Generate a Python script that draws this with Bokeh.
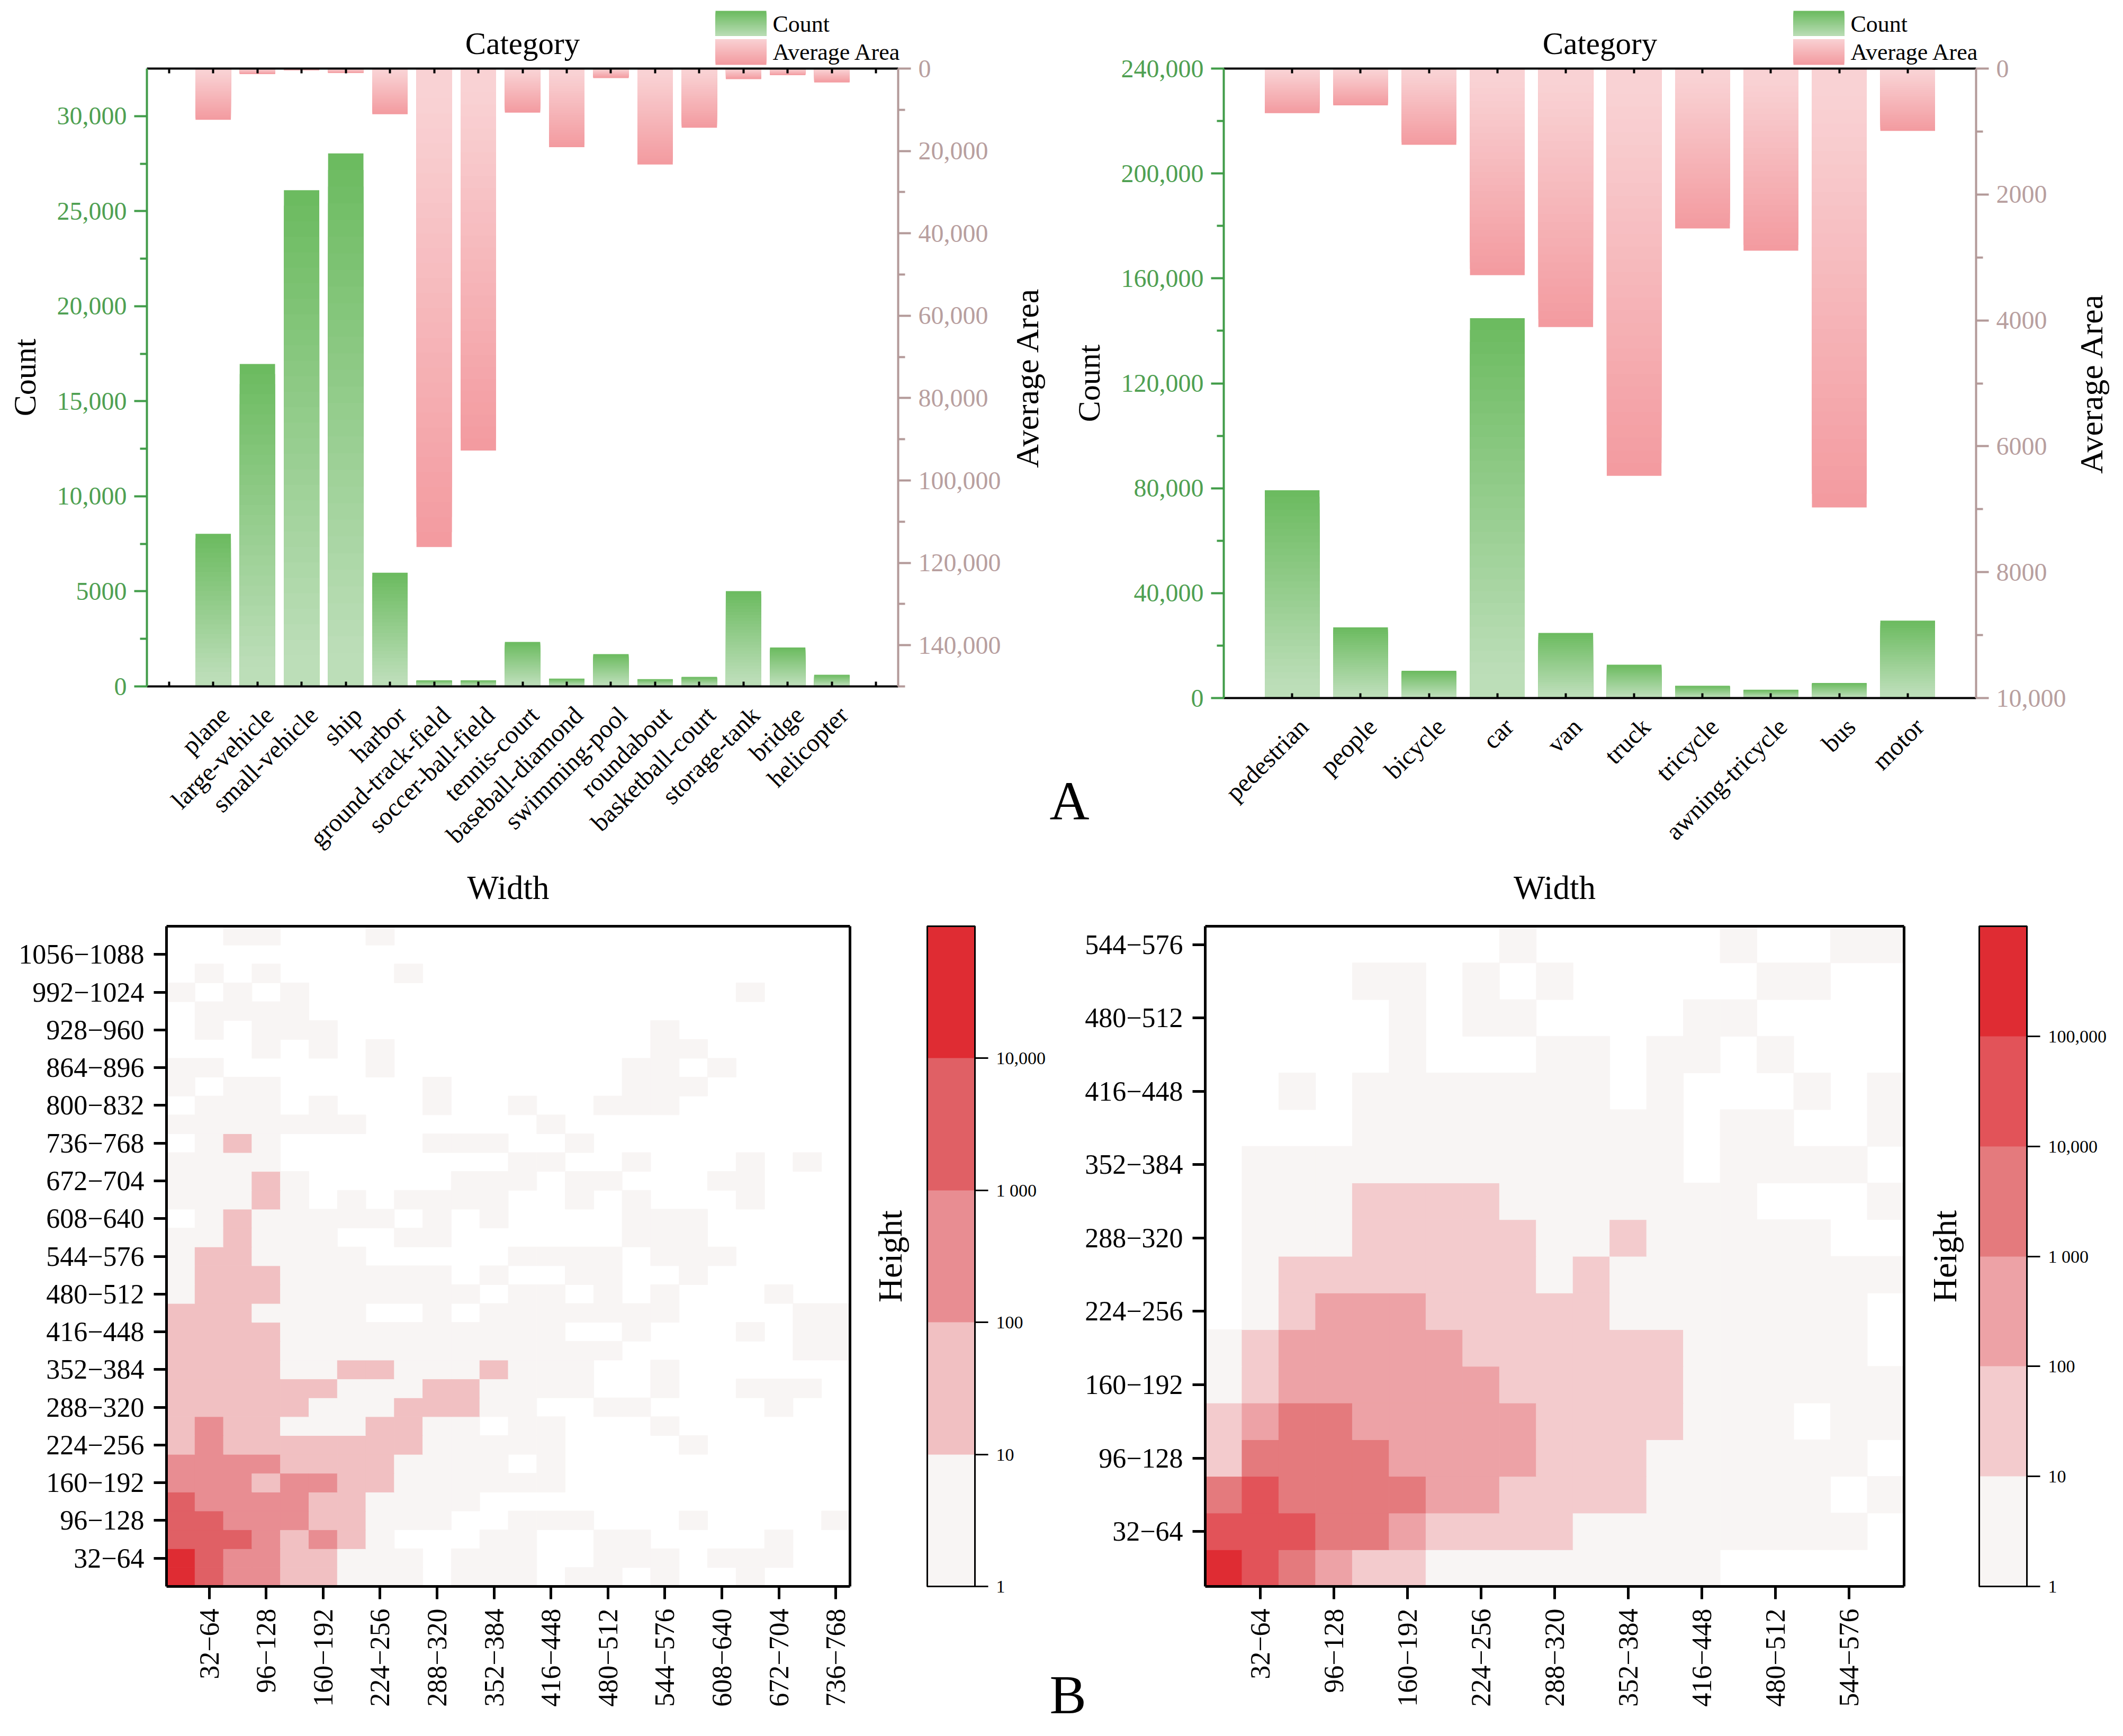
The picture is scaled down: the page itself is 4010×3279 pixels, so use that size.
import math
from bokeh.plotting import figure
from bokeh.layouts import column, row
from bokeh.embed import file_html
from bokeh.resources import INLINE
from bokeh.models import (Range1d, LinearAxis, FixedTicker, Label, ColorBar, LogColorMapper, ColumnDataSource)

SERIF = "Liberation Serif"

# ---------- data: panel A ----------
cats_dota = ["plane", "large-vehicle", "small-vehicle", "ship", "harbor", "ground-track-field",
             "soccer-ball-field", "tennis-court", "baseball-diamond", "swimming-pool", "roundabout",
             "basketball-court", "storage-tank", "bridge", "helicopter"]
count_dota = [8030, 16960, 26100, 28040, 5980, 320, 320, 2340, 410, 1700, 380, 500, 5010, 2050, 615]
area_dota = [12450, 1350, 400, 1100, 11100, 116170, 92740, 10700, 19090, 2300, 23290, 14350, 2570, 1620, 3380]

cats_drone = ["pedestrian", "people", "bicycle", "car", "van", "truck", "tricycle",
              "awning-tricycle", "bus", "motor"]
count_drone = [79220, 26970, 10400, 144850, 24850, 12740, 4670, 3190, 5730, 29520]
area_drone = [708, 584, 1212, 3283, 4106, 6469, 2540, 2894, 6973, 991]

# ---------- data: panel B, decade band of each cell (0 = empty, n = 10^(n-1) .. 10^n), first row = lowest height bin ----------
bands_dota = [
 [5,4,3,3,2,2,1,1,1,0,1,1,1,0,1,1,0,1,0,0,1,0,0,0],
 [5,4,3,3,2,2,1,1,1,0,1,1,1,0,0,1,1,1,0,1,1,1,0,0],
 [4,4,4,3,2,3,2,1,0,0,0,1,1,0,0,1,1,0,0,0,0,1,0,0],
 [4,4,3,3,3,2,2,1,1,1,0,0,1,1,1,0,0,0,1,0,0,0,0,1],
 [4,3,3,3,3,2,2,1,1,1,1,0,0,0,0,0,0,0,0,0,0,0,0,0],
 [3,3,3,2,3,3,2,2,1,1,1,1,1,1,0,0,0,0,0,0,0,0,0,0],
 [3,3,3,3,2,2,2,2,1,1,1,1,0,1,0,0,0,0,0,0,0,0,0,0],
 [2,3,2,2,2,2,2,2,2,1,1,1,1,1,0,0,0,0,1,0,0,0,0,0],
 [2,3,2,2,1,1,1,2,2,1,1,0,1,1,0,0,0,1,0,0,0,0,0,0],
 [2,2,2,2,2,1,1,1,2,2,2,1,1,0,0,1,1,0,0,0,0,1,0,0],
 [2,2,2,2,2,2,1,1,1,2,2,1,1,1,1,0,0,1,0,0,1,1,1,0],
 [2,2,2,2,1,1,2,2,1,1,1,2,1,1,1,0,0,1,0,0,0,0,0,0],
 [2,2,2,2,1,1,1,1,1,1,1,1,1,1,1,1,0,0,0,0,0,0,1,1],
 [2,2,2,2,1,1,1,1,1,1,1,1,1,1,0,0,1,0,0,0,1,0,1,1],
 [2,2,2,1,1,1,1,0,0,1,0,1,1,1,1,1,1,1,0,0,0,0,1,1],
 [1,2,2,2,1,1,1,1,1,1,1,0,1,1,0,1,0,1,0,0,0,1,0,0],
 [1,2,2,2,1,1,1,1,1,1,0,1,0,0,1,1,0,0,1,0,0,0,0,0],
 [1,2,2,1,1,1,1,0,0,0,0,0,1,1,1,1,0,1,1,1,0,0,0,0],
 [1,1,2,1,1,1,0,0,1,1,0,0,0,0,0,0,1,1,1,0,0,0,0,0],
 [0,1,2,1,1,1,1,1,0,1,0,1,0,0,0,0,1,1,1,0,0,0,0,0],
 [1,1,1,2,1,0,1,0,1,1,1,1,0,0,1,0,1,0,0,0,1,0,0,0],
 [1,1,1,2,1,0,0,0,0,0,1,1,1,0,1,1,0,0,0,1,1,0,0,0],
 [1,1,1,1,0,0,0,0,0,0,0,0,1,1,0,0,1,0,0,0,1,0,1,0],
 [0,1,2,1,0,0,0,0,0,1,1,1,0,0,1,0,0,0,0,0,0,0,0,0],
 [1,1,1,1,1,1,1,0,0,0,0,0,0,1,0,0,0,0,0,0,0,0,0,0],
 [0,1,1,1,0,1,0,0,0,1,0,0,1,0,0,1,1,1,0,0,0,0,0,0],
 [1,0,1,1,0,0,0,0,0,1,0,0,0,0,0,0,1,1,1,0,0,0,0,0],
 [1,1,0,0,0,0,0,1,0,0,0,0,0,0,0,0,1,1,0,1,0,0,0,0],
 [0,0,0,1,0,1,0,1,0,0,0,0,0,0,0,0,0,1,1,0,0,0,0,0],
 [0,1,0,1,1,1,0,0,0,0,0,0,0,0,0,0,0,1,0,0,0,0,0,0],
 [0,1,1,1,1,0,0,0,0,0,0,0,0,0,0,0,0,0,0,0,0,0,0,0],
 [1,0,1,0,1,0,0,0,0,0,0,0,0,0,0,0,0,0,0,0,1,0,0,0],
 [0,1,0,1,0,0,0,0,1,0,0,0,0,0,0,0,0,0,0,0,0,0,0,0],
 [0,0,0,0,0,0,0,0,0,0,0,0,0,0,0,0,0,0,0,0,0,0,0,0],
 [0,0,1,1,0,0,0,1,0,0,0,0,0,0,0,0,0,0,0,0,0,0,0,0],
]
bands_drone = [
 [6,5,4,3,2,2,1,1,1,1,1,1,1,1,0,0,0,0,0],
 [5,5,5,4,4,3,2,2,2,2,1,1,1,1,1,1,1,1,0],
 [4,5,4,4,4,4,3,3,2,2,2,2,1,1,1,1,1,0,1],
 [2,4,4,4,4,3,3,3,3,2,2,2,1,1,1,1,1,1,0],
 [2,3,4,4,3,3,3,3,3,2,2,2,2,1,1,1,0,1,1],
 [1,2,3,3,3,3,3,3,2,2,2,2,2,1,1,1,1,1,1],
 [1,2,3,3,3,3,3,2,2,2,2,2,2,1,1,1,1,1,0],
 [0,1,2,3,3,3,2,2,2,2,2,1,1,1,1,1,1,1,0],
 [0,1,2,2,2,2,2,2,2,1,2,1,1,1,1,1,1,1,1],
 [0,1,1,1,2,2,2,2,2,1,1,2,1,1,1,1,1,0,0],
 [0,1,1,1,2,2,2,2,1,1,1,1,1,1,1,0,0,0,1],
 [0,1,1,1,1,1,1,1,1,1,1,1,1,0,1,1,1,1,0],
 [0,0,0,0,1,1,1,1,1,1,1,1,1,0,1,1,0,0,1],
 [0,0,1,0,1,1,1,1,1,1,1,0,1,0,0,0,1,0,1],
 [0,0,0,0,0,1,0,0,0,1,1,0,1,1,0,1,0,0,0],
 [0,0,0,0,0,1,0,1,1,0,0,0,0,1,1,0,0,0,0],
 [0,0,0,0,1,1,0,1,0,1,0,0,0,0,0,1,1,0,0],
 [0,0,0,0,0,0,0,0,1,0,0,0,0,0,1,0,0,1,1],
]
bin_edges_label = ["32−64", "96−128", "160−192", "224−256", "288−320", "352−384", "416−448", "480−512",
                   "544−576", "608−640", "672−704", "736−768", "800−832", "864−896", "928−960",
                   "992−1024", "1056−1088"]
bin_size = 32
palette_dota = ["#f8f5f4", "#f1c0c2", "#e88d92", "#e06065", "#df2c33"]
palette_drone = ["#f8f5f4", "#f3cbcd", "#eda2a6", "#e47a7d", "#e25359", "#df2c33"]
cbar_labels_dota = {1: "1", 10: "10", 100: "100", 1000: "1 000", 10000: "10,000"}
cbar_labels_drone = {1: "1", 10: "10", 100: "100", 1000: "1 000", 10000: "10,000", 100000: "100,000"}

GREEN_AXIS, GREEN_TEXT = "#419c49", "#4fa052"
ROSE_AXIS, ROSE_TEXT = "#b39a99", "#b89f9f"
GREEN_TOP, GREEN_BOT = (108, 187, 96), (188, 222, 184)
PINK_TOP, PINK_BOT = (249, 210, 212), (243, 155, 160)
STEPS = 32


def mix(a, b, t):
    t = min(1.0, t)
    return "#%02x%02x%02x" % tuple(round(a[i] + (b[i] - a[i]) * t) for i in range(3))


def fmt(v):
    return str(v) if v < 10000 else f"{v:,}"


def nested(xs, vals, width, ca, cb, hold):
    """Nested boxes which shrink towards the baseline, giving each bar a vertical gradient."""
    L, R, T, C = [], [], [], []
    for x, v in zip(xs, vals):
        for i in range(STEPS):
            f = i / STEPS
            L.append(x - width / 2); R.append(x + width / 2)
            T.append(v * (1 - f)); C.append(mix(ca, cb, f / hold))
    return dict(left=L, right=R, top=T, bottom=[0] * len(L), color=C)


def canvas_figure(w, h, fl, fr, ft, fb, x0, x1, y0, y1):
    """A figure whose frame fills the canvas; the plot area proper is held by axes at fixed locations,
    so that legend and titles (outside that area) are free of any clipping."""
    sx = (x1 - x0) / (fr - fl)
    sy = (y1 - y0) / (fb - ft)
    p = figure(width=w, height=h, output_backend="svg", toolbar_location=None,
               x_range=Range1d(x0 - fl * sx, x1 + (w - fr) * sx), y_range=Range1d(y0 - (h - fb) * sy, y1 + ft * sy),
               min_border=0, min_border_left=0, min_border_right=0, min_border_top=0, min_border_bottom=0,
               background_fill_color="white", border_fill_color="white", outline_line_color=None)
    p.grid.visible = False
    dx = lambda px: x0 + (px - fl) * sx
    dy = lambda py: y0 + (fb - py) * sy
    return p, dx, dy


def bar_panel(cats, counts, areas, w, h, fl, fr, ft, fb, xr, xticks, ymax, ystep, amax, astep, org_x, area_gap, letter=None):
    p, dx, dy = canvas_figure(w, h, fl, fr, ft, fb, xr[0], xr[1], 0, ymax)
    sa = amax / (fb - ft)
    p.extra_y_ranges = {"area": Range1d(amax + (h - fb) * sa, -ft * sa)}

    xs = [i + 1 for i in range(len(cats))]
    g = nested(xs, counts, 0.8, GREEN_TOP, GREEN_BOT, 0.92)
    p.quad(source=ColumnDataSource(g), left="left", right="right", top="top", bottom="bottom",
           fill_color="color", line_color=None)
    a = nested(xs, areas, 0.8, PINK_BOT, PINK_TOP, 0.92)
    p.quad(source=ColumnDataSource(a), left="left", right="right", top="top", bottom="bottom",
           fill_color="color", line_color=None, y_range_name="area")

    bottom = p.xaxis[0]
    bottom.ticker = FixedTicker(ticks=xticks)
    bottom.fixed_location = 0
    above = LinearAxis(ticker=FixedTicker(ticks=xticks), fixed_location=ymax, axis_label="Category",
                       axis_label_text_font=SERIF, axis_label_text_font_size="59px",
                       axis_label_text_font_style="normal", axis_label_standoff=15, axis_label_text_color="black")
    p.add_layout(above, "above")
    for ax in (bottom, above):
        ax.bounds = tuple(xr)
        ax.axis_line_color = "black"; ax.axis_line_width = 4
        ax.major_tick_in = 9; ax.major_tick_out = 0
        ax.major_tick_line_color = "black"; ax.major_tick_line_width = 4
        ax.minor_tick_line_color = None
        ax.major_label_text_color = None
        ax.major_label_text_font_size = "1px"; ax.major_label_standoff = 0
    # category names sit a little to the right of their tick, on an axis of their own
    shift = 22 * (xr[1] - xr[0]) / (fr - fl)
    names = {x + shift: c for x, c in zip(xs, cats)}
    nm = LinearAxis(ticker=FixedTicker(ticks=list(names)), major_label_overrides=names, fixed_location=0,
                    axis_line_color=None, major_tick_line_color=None, minor_tick_line_color=None,
                    major_tick_in=0, major_tick_out=0, major_label_orientation=math.pi / 4,
                    major_label_text_font=SERIF, major_label_text_font_size="48px",
                    major_label_text_color="black", major_label_standoff=46)
    p.add_layout(nm, "below")

    ticks = list(range(0, ymax + 1, ystep))
    left = p.yaxis[0]
    left.fixed_location = xr[0]
    left.bounds = (0, ymax)
    left.ticker = FixedTicker(ticks=ticks, minor_ticks=[t + ystep // 2 for t in ticks if t + ystep // 2 < ymax])
    left.major_label_overrides = {t: fmt(t) for t in ticks}
    left.axis_label = "Count"
    aticks = list(range(0, amax + 1, astep))
    right = LinearAxis(y_range_name="area", fixed_location=xr[1], bounds=(0, amax),
                       ticker=FixedTicker(ticks=aticks, minor_ticks=[t + astep // 2 for t in aticks if t + astep // 2 <= amax]))
    right.major_label_overrides = {t: fmt(t) for t in aticks}
    p.add_layout(right, "right")
    for ax, line, txt in ((left, GREEN_AXIS, GREEN_TEXT), (right, ROSE_AXIS, ROSE_TEXT)):
        ax.axis_line_color = line; ax.axis_line_width = 4
        ax.major_tick_line_color = line; ax.major_tick_line_width = 4
        ax.minor_tick_line_color = line; ax.minor_tick_line_width = 4
        ax.major_tick_out = 24; ax.major_tick_in = 0; ax.minor_tick_out = 13; ax.minor_tick_in = 0
        ax.major_label_text_color = txt; ax.major_label_text_font = SERIF
        ax.major_label_text_font_size = "48px"; ax.major_label_standoff = 14
    left.axis_label_text_font = SERIF; left.axis_label_text_font_size = "60px"
    left.axis_label_text_font_style = "normal"; left.axis_label_text_color = "black"
    left.axis_label_standoff = 25

    p.add_layout(Label(x=dx(fr + area_gap), y=dy((ft + fb) / 2), text="Average Area", angle=math.pi / 2,
                       text_font=SERIF, text_font_size="62px", text_color="black",
                       text_align="center", text_baseline="middle"))

    # legend: gradient swatches above the plot area, right aligned with it
    n = 16
    SL, SR, ST, SB, SC = [], [], [], [], []
    for i in range(n):
        f = i / n
        SL.append(dx(fr - 345)); SR.append(dx(fr - 249)); ST.append(dy(20 + 47 * f)); SB.append(dy(67))
        SC.append(mix(GREEN_TOP, GREEN_BOT, f))
    for i in range(n):
        f = i / n
        SL.append(dx(fr - 345)); SR.append(dx(fr - 249)); ST.append(dy(74)); SB.append(dy(122 - 48 * f))
        SC.append(mix(PINK_BOT, PINK_TOP, f))
    p.quad(source=ColumnDataSource(dict(left=SL, right=SR, top=ST, bottom=SB, color=SC)),
           left="left", right="right", top="top", bottom="bottom", fill_color="color", line_color=None)
    for name, base in (("Count", 45), ("Average Area", 98)):
        p.add_layout(Label(x=dx(fr - 237), y=dy(base), text=name, text_font=SERIF, text_font_size="44px",
                           text_color="black", text_baseline="alphabetic"))
    if letter:
        p.add_layout(Label(x=dx(1982 - org_x), y=dy(1512), text=letter, text_font=SERIF, text_font_size="104px",
                           text_color="black", text_baseline="alphabetic"))
    return p


def heat_panel(bands, palette, high, cbar_labels, w, h, fl, fr, ft, fb, cb_gap, label_cx, letter=None, letter_xy=None):
    nrows, ncols = len(bands), len(bands[0])
    xmax, ymax = ncols * bin_size, nrows * bin_size
    p, dx, dy = canvas_figure(w, h, fl, fr, ft, fb, 0, xmax, 0, ymax)
    L, R, B, T, V = [], [], [], [], []
    for r, line in enumerate(bands):
        for c, b in enumerate(line):
            if b:
                L.append(c * bin_size); R.append((c + 1) * bin_size)
                B.append(r * bin_size); T.append((r + 1) * bin_size)
                V.append(10 ** (b - 0.5))
    mapper = LogColorMapper(palette=palette, low=1, high=high)
    p.quad(source=ColumnDataSource(dict(left=L, right=R, bottom=B, top=T, v=V)),
           left="left", right="right", bottom="bottom", top="top",
           fill_color={"field": "v", "transform": mapper}, line_color={"field": "v", "transform": mapper}, line_width=1)

    xlab = {bin_size * (2 * i + 1) + bin_size // 2: t for i, t in enumerate(bin_edges_label) if 2 * i + 1 < ncols}
    ylab = {bin_size * (2 * i + 1) + bin_size // 2: t for i, t in enumerate(bin_edges_label) if 2 * i + 1 < nrows}
    bx, ly = p.xaxis[0], p.yaxis[0]
    bx.fixed_location = 0; bx.bounds = (0, xmax)
    ly.fixed_location = 0; ly.bounds = (0, ymax)
    bx.ticker = FixedTicker(ticks=list(xlab)); bx.major_label_overrides = xlab
    ly.ticker = FixedTicker(ticks=list(ylab)); ly.major_label_overrides = ylab
    bx.major_label_orientation = math.pi / 2
    top = LinearAxis(ticker=FixedTicker(ticks=[]), fixed_location=ymax, bounds=(0, xmax), axis_label="Width",
                     axis_label_text_font=SERIF, axis_label_text_font_size="63px",
                     axis_label_text_font_style="normal", axis_label_standoff=38, axis_label_text_color="black")
    p.add_layout(top, "above")
    rt = LinearAxis(ticker=FixedTicker(ticks=[]), fixed_location=xmax, bounds=(0, ymax))
    p.add_layout(rt, "right")
    for ax in (top, rt, bx, ly):
        ax.axis_line_color = "black"; ax.axis_line_width = 5
        ax.major_tick_line_color = "black"; ax.major_tick_line_width = 5
        ax.major_tick_out = 24; ax.major_tick_in = 0; ax.minor_tick_line_color = None
        ax.major_label_text_font = SERIF; ax.major_label_text_font_size = "52px"
        ax.major_label_text_color = "black"; ax.major_label_standoff = 18

    p.add_layout(Label(x=dx(fl + label_cx), y=dy((ft + fb) / 2), text="Height", angle=math.pi / 2,
                       text_font=SERIF, text_font_size="64px", text_color="black",
                       text_align="center", text_baseline="middle"))

    cb = ColorBar(color_mapper=mapper, location=(fr + cb_gap, h - fb), width=90, height=fb - ft,
                  padding=0, margin=0, background_fill_color=None, border_line_color=None,
                  ticker=FixedTicker(ticks=list(cbar_labels)), major_label_overrides=cbar_labels,
                  major_tick_in=0, major_tick_out=25, major_tick_line_color="black", major_tick_line_width=3,
                  minor_tick_line_color=None, bar_line_color="black", bar_line_width=3,
                  label_standoff=15, major_label_text_font=SERIF, major_label_text_font_size="34px",
                  major_label_text_color="black")
    p.add_layout(cb, "center")
    if letter:
        p.add_layout(Label(x=dx(letter_xy[0]), y=dy(letter_xy[1]), text=letter, text_font=SERIF, text_font_size="104px",
                           text_color="black", text_baseline="alphabetic"))
    return p


X0, Y0 = 1976, 1630
WL, WR = X0, 3994 - X0
TOPH, BOTH = Y0, 3263 - Y0

a1 = bar_panel(cats_dota, count_dota, area_dota, WL, TOPH, 277, 1696, 129, 1296,
               (-0.5, 16.5), list(range(0, 17)), 32500, 5000, 150000, 20000, 0, 243)
a2 = bar_panel(cats_drone, count_drone, area_drone, WR, TOPH, 2311 - X0, 3732 - X0, 129, 1318,
               (0, 11), list(range(1, 11)), 240000, 40000, 10000, 2000, X0, 217, letter="A")
b1 = heat_panel(bands_dota, palette_dota, 1e5, cbar_labels_dota, WL, BOTH, 314, 1605, 1749 - Y0, 2996 - Y0, 146, 1681 - 314)
b2 = heat_panel(bands_drone, palette_drone, 1e6, cbar_labels_drone, WR, BOTH, 2276 - X0, 3596 - X0, 1749 - Y0, 2996 - Y0, 142,
                3673 - 2276, letter="B", letter_xy=(1982 - X0, 3200 - Y0))

page = column(row(a1, a2), row(b1, b2))
open("out.html", "w").write(file_html(page, INLINE))
